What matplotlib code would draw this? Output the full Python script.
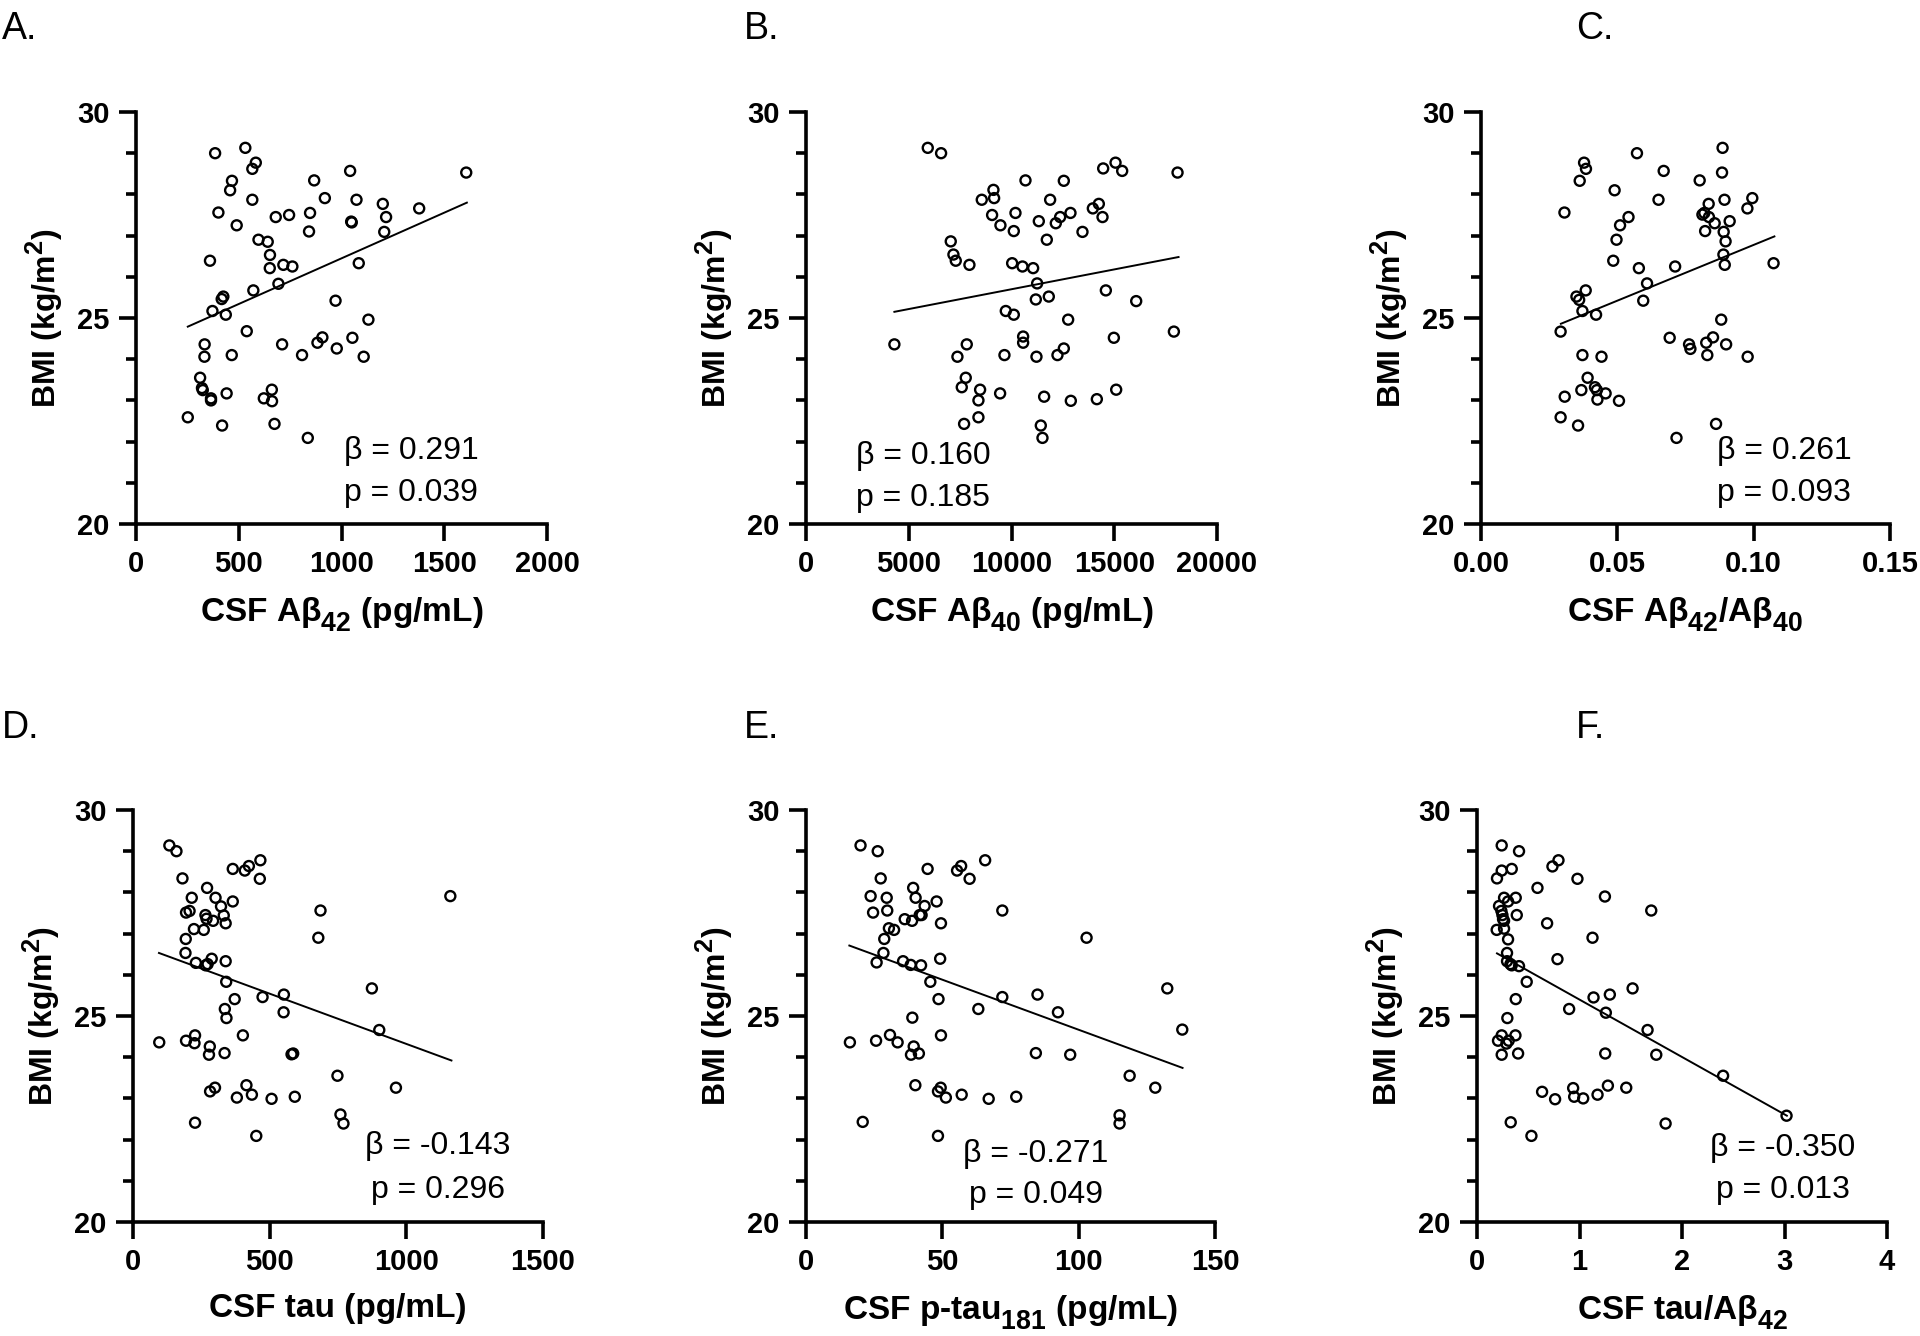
import numpy as np
import matplotlib
matplotlib.use("Agg")
import matplotlib.pyplot as plt
from matplotlib.ticker import MultipleLocator
import matplotlib._mathtext as mtext

plt.rcParams['font.family'] = ['Liberation Sans', 'DejaVu Sans']
plt.rcParams['mathtext.fontset'] = 'custom'
plt.rcParams['mathtext.rm'] = 'Liberation Sans:bold'
plt.rcParams['mathtext.bf'] = 'Liberation Sans:bold'
# the original uses larger, lower subscripts than matplotlib's defaults
mtext.SHRINK_FACTOR = 0.8
mtext.FontConstantsBase.sub1 = 0.55

# ---- data (BMI vs CSF markers) ----
A_x = [385, 532, 566, 583, 467, 458, 566, 401, 490, 596, 641, 652, 651, 717, 761, 680,
       745, 847, 842, 867, 919, 1042, 1073, 1047, 1050, 1201, 1217, 1208, 1378, 1607, 1084, 360,
       693, 571, 425, 417, 372, 437, 971, 1131, 539, 334, 333, 466, 711, 808, 883, 907,
       977, 1053, 1108, 312, 321, 325, 365, 365, 441, 622, 661, 662, 252, 419, 674, 836]
A_y = [29.0, 29.13, 28.62, 28.77, 28.33, 28.1, 27.87, 27.56, 27.25, 26.9, 26.85, 26.53, 26.21, 26.29, 26.25, 27.45,
       27.5, 27.55, 27.1, 28.34, 27.91, 28.57, 27.87, 27.34, 27.32, 27.77, 27.45, 27.09, 27.66, 28.53, 26.33, 26.39,
       25.83, 25.67, 25.52, 25.46, 25.17, 25.08, 25.42, 24.96, 24.68, 24.36, 24.06, 24.1, 24.36, 24.1, 24.4, 24.53,
       24.26, 24.52, 24.06, 23.55, 23.3, 23.25, 23.05, 23.0, 23.17, 23.05, 23.26, 22.98, 22.59, 22.39, 22.43, 22.09]

B_x = [5925, 6574, 9121, 9154, 8553, 9056, 9462, 10193, 10112, 10680,
       11329, 11880, 11718, 12156, 12367, 12546, 12870, 13454, 13958, 14250,
       14429, 14461, 15062, 15386, 18080, 7044, 7174, 7288, 7953, 10031,
       10534, 11053, 11248, 11183, 11815, 14591, 16068, 9722, 10112, 12757,
       4301, 7823, 7369, 9657, 10566, 10566, 11215, 12237, 12546, 14981,
       17902, 7774, 7580, 8472, 8391, 9446, 11588, 12887, 14153, 15094,
       7693, 8391, 11426, 11507]
B_y = [29.13, 29.0, 28.11, 27.91, 27.87, 27.5, 27.25, 27.55, 27.11, 28.34,
       27.35, 27.87, 26.9, 27.3, 27.45, 28.33, 27.55, 27.09, 27.66, 27.77,
       27.45, 28.63, 28.77, 28.57, 28.53, 26.86, 26.54, 26.39, 26.29, 26.33,
       26.25, 26.21, 25.84, 25.45, 25.52, 25.67, 25.41, 25.17, 25.08, 24.96,
       24.36, 24.36, 24.06, 24.1, 24.55, 24.4, 24.06, 24.1, 24.26, 24.52,
       24.67, 23.55, 23.32, 23.26, 23.0, 23.17, 23.09, 22.99, 23.03, 23.26,
       22.43, 22.59, 22.39, 22.09]

C_x = [0.0306, 0.0292, 0.0292, 0.0307, 0.0362, 0.0378, 0.0385, 0.0350, 0.0360, 0.0384,
       0.0372, 0.0422, 0.0372, 0.0442, 0.0391, 0.0368, 0.0418, 0.0425, 0.0427, 0.0457,
       0.0506, 0.0356, 0.0490, 0.0541, 0.0510, 0.0497, 0.0485, 0.0579, 0.0572, 0.0651,
       0.0670, 0.0712, 0.0609, 0.0595, 0.0692, 0.0763, 0.0768, 0.0826, 0.0851, 0.0830,
       0.0881, 0.0899, 0.0978, 0.0717, 0.0862, 0.0802, 0.0886, 0.0884, 0.0893, 0.0835,
       0.0812, 0.0819, 0.0836, 0.0857, 0.0912, 0.0822, 0.0890, 0.0897, 0.0889, 0.0894,
       0.0977, 0.0995, 0.1073]
C_y = [27.56, 24.67, 22.59, 23.09, 28.33, 28.77, 28.62, 25.52, 25.44, 25.67,
       25.17, 25.08, 24.10, 24.06, 23.55, 23.25, 23.32, 23.25, 23.02, 23.17,
       22.99, 22.39, 28.1, 27.45, 27.25, 26.9, 26.39, 26.21, 29.0, 27.87,
       28.57, 26.25, 25.84, 25.42, 24.52, 24.36, 24.25, 24.40, 24.53, 24.10,
       24.96, 24.36, 24.06, 22.09, 22.43, 28.34, 29.13, 28.53, 27.87, 27.77,
       27.51, 27.55, 27.45, 27.30, 27.35, 27.11, 27.09, 26.86, 26.54, 26.29,
       27.66, 27.91, 26.33]

D_x = [133, 159, 181, 271, 215, 302, 322, 365, 194, 207,
       265, 269, 293, 332, 339, 223, 259, 193, 365, 409,
       424, 466, 464, 686, 678, 1161, 192, 230, 266, 273,
       288, 339, 341, 372, 474, 552, 551, 336, 342, 874,
       901, 96, 194, 227, 225, 281, 278, 335, 402, 580,
       586, 748, 962, 282, 300, 380, 415, 435, 507, 592,
       759, 770, 227, 451]
D_y = [29.14, 29.0, 28.34, 28.11, 27.87, 27.87, 27.66, 27.78, 27.51, 27.55,
       27.45, 27.36, 27.31, 27.44, 27.25, 27.11, 27.09, 26.87, 28.57, 28.53,
       28.64, 28.78, 28.33, 27.56, 26.90, 27.91, 26.53, 26.29, 26.23, 26.26,
       26.39, 26.33, 25.83, 25.41, 25.46, 25.52, 25.09, 25.17, 24.95, 25.67,
       24.66, 24.36, 24.4, 24.53, 24.34, 24.26, 24.06, 24.1, 24.53, 24.07,
       24.09, 23.55, 23.26, 23.17, 23.26, 23.02, 23.32, 23.09, 22.99, 23.04,
       22.61, 22.39, 22.41, 22.09]

E_x = [20.0, 26.3, 27.4, 23.7, 29.6, 24.6, 29.8, 30.4, 32.3, 28.7,
       28.4, 25.9, 36.2, 38.9, 39.3, 40.2, 43.5, 41.7, 42.4, 44.6,
       47.9, 49.5, 55.4, 56.9, 60.0, 65.7, 72.0, 102.9, 35.6, 38.4,
       42.2, 49.2, 45.6, 48.6, 72.0, 84.9, 63.2, 92.4, 132.5, 138.0,
       39.0, 16.1, 25.7, 30.8, 33.6, 39.5, 38.5, 41.4, 49.5, 84.3,
       96.9, 118.7, 128.1, 40.1, 48.4, 49.4, 51.3, 57.1, 67.0, 77.1,
       115.0, 115.0, 20.8, 48.4]
E_y = [29.14, 29.0, 28.34, 27.91, 27.87, 27.51, 27.56, 27.13, 27.09, 26.87,
       26.53, 26.3, 27.35, 27.31, 28.11, 27.87, 27.67, 27.45, 27.45, 28.57,
       27.78, 27.25, 28.53, 28.64, 28.33, 28.78, 27.56, 26.9, 26.33, 26.24,
       26.23, 26.39, 25.83, 25.41, 25.46, 25.52, 25.17, 25.09, 25.67, 24.67,
       24.96, 24.36, 24.4, 24.54, 24.36, 24.26, 24.06, 24.09, 24.53, 24.1,
       24.06, 23.55, 23.26, 23.32, 23.17, 23.26, 23.02, 23.09, 22.99, 23.04,
       22.59, 22.39, 22.43, 22.09]

F_x = [0.241, 0.410, 0.195, 0.241, 0.339, 0.736, 0.795, 0.980, 0.590, 1.248,
       1.700, 0.264, 0.378, 0.303, 0.215, 0.238, 0.248, 0.254, 0.264, 0.388,
       0.684, 0.192, 0.264, 0.303, 1.127, 0.293, 0.293, 0.326, 0.339, 0.410,
       0.785, 0.485, 0.378, 1.137, 1.296, 1.518, 0.899, 1.257, 0.296, 1.664,
       0.205, 0.241, 0.287, 0.309, 0.375, 0.241, 0.401, 1.251, 1.749, 2.401,
       0.635, 0.762, 0.938, 0.948, 1.036, 1.176, 1.277, 1.456, 3.020, 1.840,
       0.329, 0.531]
F_y = [29.14, 29.0, 28.34, 28.53, 28.57, 28.63, 28.78, 28.33, 28.11, 27.9,
       27.56, 27.87, 27.87, 27.78, 27.67, 27.55, 27.45, 27.35, 27.31, 27.45,
       27.25, 27.09, 27.12, 26.86, 26.9, 26.53, 26.33, 26.26, 26.23, 26.21,
       26.38, 25.83, 25.41, 25.45, 25.52, 25.67, 25.17, 25.08, 24.95, 24.66,
       24.4, 24.53, 24.33, 24.4, 24.53, 24.06, 24.09, 24.09, 24.06, 23.55,
       23.16, 22.98, 23.25, 23.04, 23.0, 23.09, 23.31, 23.26, 22.58, 22.39,
       22.42, 22.09]

# regression lines (end points)
fit_x = {'A': [252, 1610], 'B': [4301, 18129], 'C': [0.0293, 0.1076],
         'D': [95, 1165], 'E': [15.9, 138.1], 'F': [0.195, 3.023]}
fit_y = {'A': [24.79, 27.80], 'B': [25.15, 26.48], 'C': [24.86, 26.98],
         'D': [26.53, 23.92], 'E': [26.71, 23.74], 'F': [26.52, 22.58]}

betas = {'A': '0.291', 'B': '0.160', 'C': '0.261', 'D': '-0.143', 'E': '-0.271', 'F': '-0.350'}
pvals = {'A': '0.039', 'B': '0.185', 'C': '0.093', 'D': '0.296', 'E': '0.049', 'F': '0.013'}

xlabels = {'A': r'CSF Aβ$_{42}$ (pg/mL)',
           'B': r'CSF Aβ$_{40}$ (pg/mL)',
           'C': r'CSF Aβ$_{42}$/Aβ$_{40}$',
           'D': 'CSF tau (pg/mL)',
           'E': r'CSF p-tau$_{181}$ (pg/mL)',
           'F': r'CSF tau/Aβ$_{42}$'}
xticks = {'A': [0, 500, 1000, 1500, 2000], 'B': [0, 5000, 10000, 15000, 20000],
          'C': [0.0, 0.05, 0.10, 0.15], 'D': [0, 500, 1000, 1500],
          'E': [0, 50, 100, 150], 'F': [0, 1, 2, 3, 4]}
xticklabels = {'A': ['0', '500', '1000', '1500', '2000'],
               'B': ['0', '5000', '10000', '15000', '20000'],
               'C': ['0.00', '0.05', '0.10', '0.15'],
               'D': ['0', '500', '1000', '1500'],
               'E': ['0', '50', '100', '150'],
               'F': ['0', '1', '2', '3', '4']}
xs = {'A': A_x, 'B': B_x, 'C': C_x, 'D': D_x, 'E': E_x, 'F': F_x}
ys = {'A': A_y, 'B': B_y, 'C': C_y, 'D': D_y, 'E': E_y, 'F': F_y}

# layout (pixels in the 1920x1336 canvas)
W, H = 1920, 1336
rects = {'A': (136, 112, 411), 'B': (806, 112, 411), 'C': (1481, 112, 409),
         'D': (133, 810, 410), 'E': (806, 810, 409), 'F': (1477, 810, 410)}
ax_h = 412
stat_pos = {'A': (0.669, 0.158, 0.056), 'B': (0.285, 0.146, 0.044),
            'C': (0.741, 0.158, 0.056), 'D': (0.744, 0.165, 0.058),
            'E': (0.562, 0.146, 0.046), 'F': (0.746, 0.160, 0.058)}
letter_pos = {'A': (2, 39), 'B': (744, 39), 'C': (1576, 39),
              'D': (2, 738), 'E': (744, 738), 'F': (1576, 738)}

fig = plt.figure(figsize=(W / 100, H / 100), dpi=100)

for key in ['A', 'B', 'C', 'D', 'E', 'F']:
    left, top, width = rects[key]
    ax = fig.add_axes([left / W, 1 - (top + ax_h) / H, width / W, ax_h / H])
    ax.scatter(xs[key], ys[key], s=52, facecolors='none', edgecolors='black',
               linewidths=1.7, zorder=3)
    ax.plot(fit_x[key], fit_y[key], color='black', lw=1.4, zorder=2)

    ax.set_xlim(xticks[key][0], xticks[key][-1])
    ax.set_ylim(20, 30)
    ax.set_xticks(xticks[key])
    ax.set_xticklabels(xticklabels[key])
    ax.set_yticks([20, 25, 30])
    ax.yaxis.set_minor_locator(MultipleLocator(1))

    for s in ['top', 'right']:
        ax.spines[s].set_visible(False)
    for s in ['left', 'bottom']:
        ax.spines[s].set_linewidth(2.6)
        ax.spines[s].set_capstyle('projecting')
    ax.tick_params(which='major', direction='out', length=12, width=2.6,
                   labelsize=21, pad=7)
    ax.tick_params(which='minor', direction='out', length=7, width=2.6)
    for lab in ax.get_xticklabels() + ax.get_yticklabels():
        lab.set_fontweight('bold')

    ax.set_xlabel(xlabels[key], fontsize=24, fontweight='bold', labelpad=12)
    ax.set_ylabel(r'BMI (kg/m$^{2}$)', fontsize=23, fontweight='bold', labelpad=9)

    cx, yb, yp = stat_pos[key]
    ax.text(cx, yb, 'β = ' + betas[key], transform=ax.transAxes, ha='center',
            va='baseline', fontsize=23)
    ax.text(cx, yp, 'p = ' + pvals[key], transform=ax.transAxes, ha='center',
            va='baseline', fontsize=23)

    lx, ly = letter_pos[key]
    fig.text(lx / W, 1 - ly / H, key + '.', fontsize=27, va='baseline', ha='left')

fig.savefig('out.png', dpi=100, facecolor='white')
